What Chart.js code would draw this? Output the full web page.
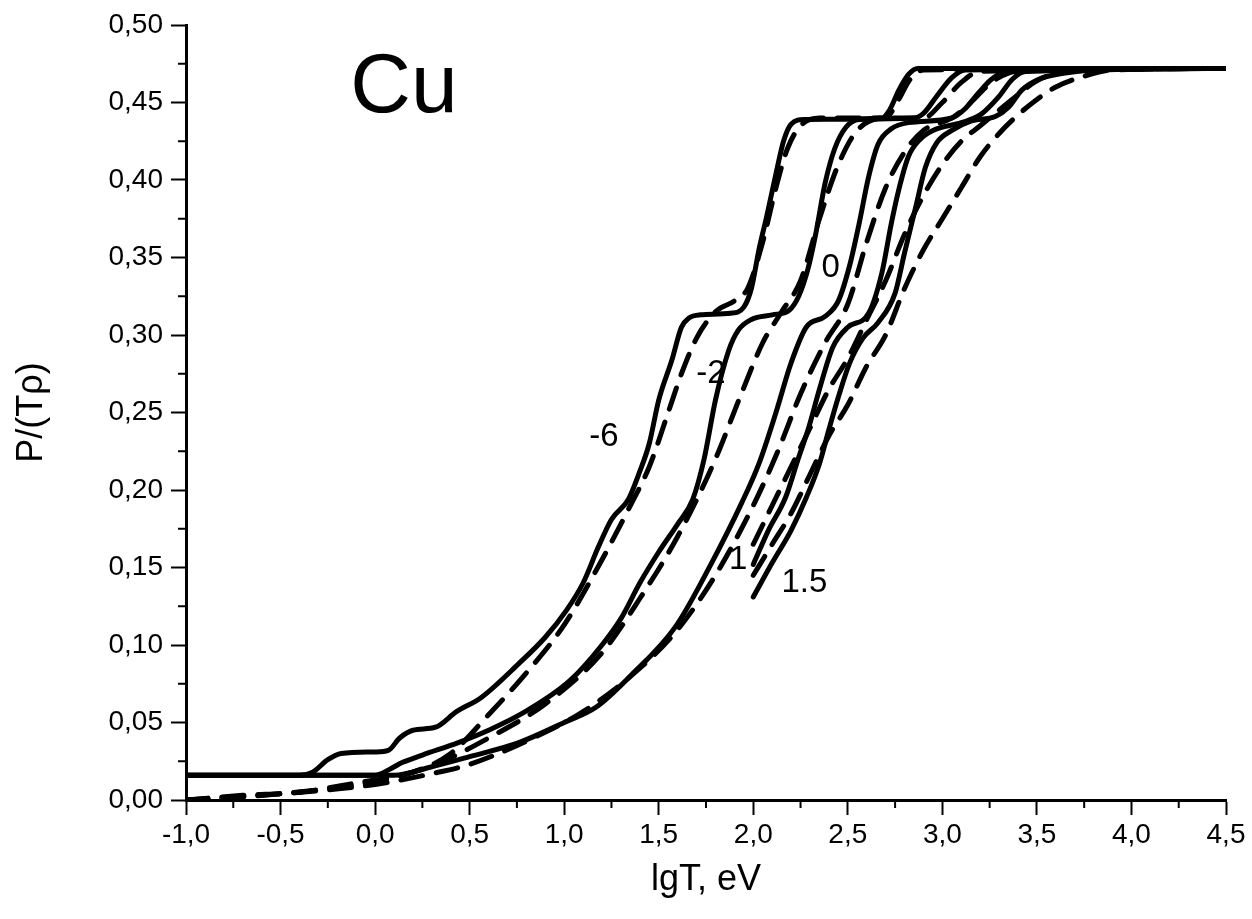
<!DOCTYPE html>
<html>
<head>
<meta charset="utf-8">
<title>Cu</title>
<script src="https://cdn.jsdelivr.net/npm/chart.js@4.4.1/dist/chart.umd.min.js"></script>
<style>
  html, body { margin: 0; padding: 0; background: #fff; }
  #wrap { width: 1252px; height: 919px; }
</style>
</head>
<body>
<div id="wrap"><canvas id="cuChart" width="1252" height="919"></canvas></div>
<script>
// axis ticks
var xMin = -1.0, xMax = 4.5, xStep = 0.5;
var yMin = 0.0, yMax = 0.5, yStep = 0.05;

// solid curves (lg rho = -6, -2, 0, 1, 1.5)
var lgT_m6 = [-1, -0.4, -0.33, -0.25, -0.18, 0.0, 0.07, 0.13, 0.2, 0.32, 0.43, 0.56, 0.76, 0.9, 1.01, 1.1, 1.18, 1.25, 1.34, 1.4, 1.45, 1.5, 1.57, 1.62, 1.66, 1.72, 1.88, 1.95, 1.99, 2.03, 2.07, 2.12, 2.16, 2.2, 2.27, 2.68, 2.72, 2.77, 2.82, 2.87, 4.5];
var P_m6   = [0.016, 0.016, 0.018, 0.026, 0.030, 0.031, 0.032, 0.040, 0.045, 0.047, 0.057, 0.066, 0.088, 0.105, 0.122, 0.140, 0.163, 0.181, 0.194, 0.212, 0.230, 0.258, 0.284, 0.305, 0.311, 0.313, 0.314, 0.318, 0.330, 0.355, 0.376, 0.404, 0.425, 0.436, 0.439, 0.440, 0.445, 0.458, 0.468, 0.472, 0.472];

var lgT_m2 = [-1, 0.0, 0.08, 0.14, 0.25, 0.44, 0.6, 0.78, 1.03, 1.2, 1.3, 1.4, 1.5, 1.6, 1.68, 1.74, 1.8, 1.87, 1.92, 1.99, 2.1, 2.19, 2.24, 2.29, 2.33, 2.38, 2.43, 2.49, 2.56, 2.85, 2.9, 2.97, 3.05, 3.12, 4.5];
var P_m2   = [0.016, 0.016, 0.020, 0.024, 0.029, 0.037, 0.045, 0.056, 0.077, 0.100, 0.117, 0.140, 0.160, 0.178, 0.194, 0.220, 0.258, 0.290, 0.303, 0.310, 0.313, 0.316, 0.325, 0.343, 0.365, 0.398, 0.420, 0.434, 0.439, 0.440, 0.443, 0.454, 0.466, 0.471, 0.472];

var lgT_0 = [-1, 0.1, 0.285, 0.5, 0.76, 1.0, 1.17, 1.35, 1.59, 1.78, 1.94, 2.03, 2.12, 2.2, 2.28, 2.38, 2.45, 2.51, 2.56, 2.61, 2.66, 2.73, 2.82, 3.05, 3.12, 3.19, 3.26, 3.34, 4.5];
var P_0   = [0.016, 0.016, 0.021, 0.028, 0.037, 0.050, 0.060, 0.080, 0.112, 0.153, 0.192, 0.217, 0.250, 0.282, 0.305, 0.312, 0.322, 0.345, 0.372, 0.402, 0.423, 0.433, 0.437, 0.440, 0.446, 0.456, 0.465, 0.470, 0.472];

var lgT_1 = [2.0, 2.08, 2.17, 2.24, 2.29, 2.35, 2.42, 2.5, 2.61, 2.68, 2.73, 2.77, 2.82, 2.88, 2.95, 3.1, 3.2, 3.3, 3.37, 3.44, 4.5];
var P_1   = [0.152, 0.174, 0.195, 0.221, 0.239, 0.265, 0.292, 0.305, 0.314, 0.340, 0.372, 0.394, 0.415, 0.426, 0.432, 0.437, 0.442, 0.454, 0.465, 0.470, 0.472];

var lgT_15 = [2.0, 2.1, 2.2, 2.28, 2.35, 2.4, 2.45, 2.51, 2.58, 2.66, 2.75, 2.8, 2.86, 2.91, 2.97, 3.05, 3.15, 3.28, 3.35, 3.42, 3.51, 3.65, 3.8, 4.5];
var P_15   = [0.131, 0.153, 0.174, 0.195, 0.217, 0.239, 0.260, 0.282, 0.298, 0.308, 0.327, 0.353, 0.383, 0.408, 0.424, 0.432, 0.438, 0.441, 0.447, 0.458, 0.465, 0.469, 0.471, 0.472];

// dashed curves
var lgTd_m6 = [-1, -0.7, -0.4, -0.1, 0.2, 0.4, 0.6, 0.8, 1.0, 1.2, 1.35, 1.45, 1.55, 1.62, 1.7, 1.8, 1.9, 1.97, 2.05, 2.12, 2.18, 2.25, 2.35, 2.7, 2.76, 2.83, 2.9, 4.5];
var Pd_m6   = [0.0, 0.003, 0.005, 0.011, 0.018, 0.030, 0.055, 0.082, 0.113, 0.155, 0.190, 0.215, 0.250, 0.275, 0.298, 0.315, 0.322, 0.330, 0.360, 0.395, 0.420, 0.435, 0.440, 0.440, 0.450, 0.465, 0.471, 0.472];

var lgTd_m2 = [-1, -0.5, 0.0, 0.3, 0.6, 0.9, 1.2, 1.4, 1.6, 1.8, 1.93, 2.05, 2.15, 2.25, 2.35, 2.45, 2.55, 2.7, 2.9, 3.0, 3.1, 3.2, 4.5];
var Pd_m2   = [0.0, 0.004, 0.012, 0.022, 0.040, 0.062, 0.095, 0.130, 0.170, 0.220, 0.260, 0.295, 0.315, 0.335, 0.375, 0.410, 0.432, 0.440, 0.440, 0.450, 0.463, 0.470, 0.472];

var lgTd_0 = [-1, -0.5, 0.0, 0.3, 0.5, 0.8, 1.1, 1.4, 1.6, 1.8, 2.0, 2.13, 2.25, 2.38, 2.5, 2.6, 2.7, 2.8, 2.9, 3.05, 3.15, 3.25, 3.35, 3.5, 4.5];
var Pd_0   = [0.0, 0.004, 0.010, 0.017, 0.023, 0.038, 0.057, 0.085, 0.110, 0.145, 0.190, 0.225, 0.262, 0.295, 0.320, 0.360, 0.395, 0.418, 0.432, 0.440, 0.450, 0.462, 0.469, 0.471, 0.472];

var lgTd_1 = [2.0, 2.1, 2.2, 2.3, 2.4, 2.5, 2.6, 2.7, 2.8, 2.9, 3.0, 3.1, 3.2, 3.3, 3.4, 3.5, 3.65, 4.5];
var Pd_1   = [0.165, 0.190, 0.215, 0.240, 0.265, 0.285, 0.310, 0.335, 0.365, 0.390, 0.410, 0.425, 0.435, 0.445, 0.455, 0.464, 0.470, 0.472];

var lgTd_15 = [2.0, 2.1, 2.2, 2.3, 2.4, 2.5, 2.6, 2.7, 2.8, 2.9, 3.0, 3.1, 3.2, 3.3, 3.4, 3.5, 3.6, 3.75, 3.9, 4.5];
var Pd_15   = [0.145, 0.165, 0.185, 0.210, 0.235, 0.255, 0.280, 0.300, 0.330, 0.355, 0.375, 0.395, 0.415, 0.430, 0.442, 0.452, 0.460, 0.467, 0.471, 0.472];

// curve labels (text, lgT, P) and the element name
var curveLabels = ['-6', '-2', '0', '1', '1.5'];
var labelX = [1.21, 1.776, 2.41, 1.92, 2.27];
var labelY = [0.234, 0.275, 0.343, 0.155, 0.140];
var elementName = 'Cu';
var elementX = 0.153, elementY = 0.459;

function pts(xs, ys) {
  return xs.map(function (x, i) { return { x: x, y: ys[i] }; });
}

function line(xs, ys, dashed) {
  return {
    data: pts(xs, ys),
    borderColor: '#000',
    borderWidth: 5,
    borderDash: dashed ? [22, 14] : [],
    pointRadius: 0,
    fill: false,
    cubicInterpolationMode: 'monotone',
    borderCapStyle: 'round',
    borderJoinStyle: 'round'
  };
}

var comma = function (v, d) { return v.toFixed(d).replace('.', ','); };
var FONT = '"Liberation Sans", Arial, sans-serif';

// minor ticks + text labels
var extras = {
  id: 'extras',
  afterDraw: function (chart) {
    var ctx = chart.ctx, xs = chart.scales.x, ys = chart.scales.y;
    ctx.save();
    ctx.strokeStyle = '#000';
    ctx.lineWidth = 2;
    ctx.beginPath();
    for (var v = xMin + xStep / 2; v < xMax; v += xStep) {
      var px = xs.getPixelForValue(v);
      ctx.moveTo(px, ys.bottom);
      ctx.lineTo(px, ys.bottom + 8);
    }
    for (var w = yMin + yStep / 2; w < yMax; w += yStep) {
      var py = ys.getPixelForValue(w);
      ctx.moveTo(xs.left, py);
      ctx.lineTo(xs.left - 8, py);
    }
    ctx.stroke();

    ctx.fillStyle = '#000';
    ctx.textAlign = 'center';
    ctx.textBaseline = 'middle';
    ctx.font = '33px ' + FONT;
    curveLabels.forEach(function (t, i) {
      ctx.fillText(t, xs.getPixelForValue(labelX[i]), ys.getPixelForValue(labelY[i]));
    });
    ctx.font = '84px ' + FONT;
    ctx.fillText(elementName, xs.getPixelForValue(elementX), ys.getPixelForValue(elementY));
    ctx.restore();
  }
};

var ctx = document.getElementById('cuChart').getContext('2d');
var myChart = new Chart(ctx, {
  type: 'line',
  data: {
    datasets: [
      line(lgT_m6, P_m6, false),
      line(lgT_m2, P_m2, false),
      line(lgT_0, P_0, false),
      line(lgT_1, P_1, false),
      line(lgT_15, P_15, false),
      line(lgTd_m6, Pd_m6, true),
      line(lgTd_m2, Pd_m2, true),
      line(lgTd_0, Pd_0, true),
      line(lgTd_1, Pd_1, true),
      line(lgTd_15, Pd_15, true)
    ]
  },
  options: {
    responsive: false,
    animation: false,
    layout: { padding: { top: 25, right: 26, left: 0, bottom: 0 } },
    plugins: { legend: { display: false }, tooltip: { enabled: false } },
    scales: {
      x: {
        type: 'linear',
        min: xMin, max: xMax,
        afterFit: function (s) { s.height = 119; },
        ticks: {
          stepSize: xStep,
          color: '#000',
          font: { family: FONT, size: 28 },
          padding: 3,
          maxRotation: 0,
          callback: function (v) { return comma(v, 1); }
        },
        grid: { drawOnChartArea: false, drawTicks: true, tickLength: 15, tickColor: '#000', tickWidth: 2 },
        border: { display: true, color: '#000', width: 3 },
        title: {
          display: true,
          text: 'lgT, eV',
          color: '#000',
          font: { family: FONT, size: 36 },
          padding: { top: 0, bottom: 17 }
        }
      },
      y: {
        min: yMin, max: yMax,
        afterFit: function (s) { s.width = 186; },
        ticks: {
          stepSize: yStep,
          color: '#000',
          font: { family: FONT, size: 28 },
          padding: 8,
          callback: function (v) { return comma(v, 2); }
        },
        grid: { drawOnChartArea: false, drawTicks: true, tickLength: 15, tickColor: '#000', tickWidth: 2 },
        border: { display: true, color: '#000', width: 3 },
        title: {
          display: true,
          text: 'P/(Tρ)',
          color: '#000',
          font: { family: FONT, size: 36 },
          padding: { top: 10, bottom: 0 }
        }
      }
    }
  },
  plugins: [extras]
});
</script>
</body>
</html>
